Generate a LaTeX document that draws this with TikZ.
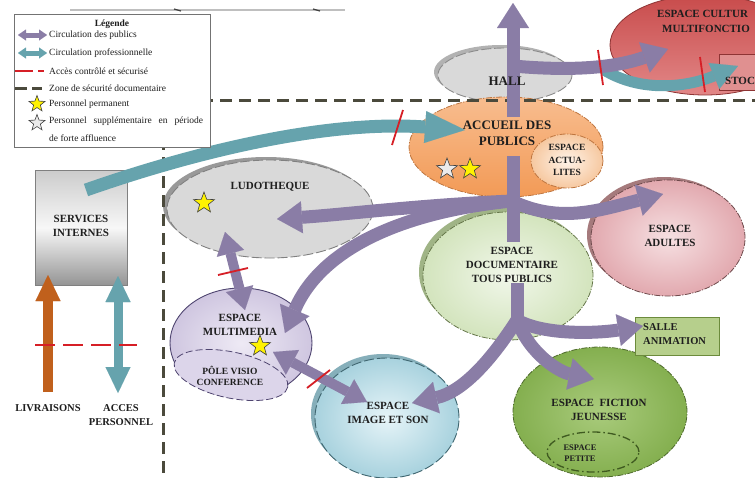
\documentclass[tikz,border=0pt]{standalone}
\usepackage{fontspec}
\setmainfont{Liberation Serif}
\usetikzlibrary{arrows.meta,shapes.geometric}

% colours
\definecolor{inkc}{HTML}{1E1E1E}
\definecolor{pubc}{HTML}{8A7DA6}
\definecolor{proc}{HTML}{66A3AD}
\definecolor{livc}{HTML}{C0601C}
\definecolor{redc}{HTML}{D61F26}
\definecolor{zonec}{HTML}{4B4A3C}
\definecolor{cultTop}{HTML}{C84B4B}
\definecolor{cultBot}{HTML}{E28787}
\definecolor{cultLine}{HTML}{8E3434}
\definecolor{stocFill}{HTML}{E09090}
\definecolor{accTopC}{HTML}{F8BD8F}
\definecolor{accBotC}{HTML}{F29A56}
\definecolor{accLine}{HTML}{BE7640}
\definecolor{actuIn}{HTML}{FFF3E8}
\definecolor{actuOut}{HTML}{F6C8A0}
\definecolor{multiIn}{HTML}{EEEAF5}
\definecolor{multiOut}{HTML}{CFC6E0}
\definecolor{multiLine}{HTML}{4F4570}
\definecolor{poleFill}{HTML}{DCD5EA}
\definecolor{imgIn}{HTML}{E6F4F8}
\definecolor{imgOut}{HTML}{A8D2DE}
\definecolor{imgRim}{HTML}{86AFBA}
\definecolor{imgLine}{HTML}{3F6670}
\definecolor{docIn}{HTML}{F1F7EA}
\definecolor{docOut}{HTML}{D3E4BD}
\definecolor{docRim}{HTML}{A0B486}
\definecolor{docLine}{HTML}{66774A}
\definecolor{adultIn}{HTML}{F6E0E2}
\definecolor{adultOut}{HTML}{E2A9AF}
\definecolor{adultRim}{HTML}{A57A7C}
\definecolor{adultLine}{HTML}{6F4A4C}
\definecolor{fictIn}{HTML}{A9CB7C}
\definecolor{fictOut}{HTML}{84AF4F}
\definecolor{fictLine}{HTML}{4E6A2C}
\definecolor{petiteLine}{HTML}{3F5A20}
\definecolor{salleFill}{HTML}{B6CF8C}
\definecolor{salleLine}{HTML}{6C8B3C}

\tikzset{
  PubTip/.tip={Triangle[length=25pt,width=32pt,line width=0.01pt]},
  PubTwoTip/.tip={Triangle[length=22pt,width=28pt,line width=0.01pt]},
  ProTip/.tip={Triangle[length=40pt,width=32pt,line width=0.01pt]},
  SmallProTip/.tip={Triangle[length=26pt,width=28pt,line width=0.01pt]},
  StaffTip/.tip={Triangle[length=26pt,width=25pt,line width=0.01pt]},
  KeyTip/.tip={Triangle[length=8pt,width=11pt,line width=0.01pt]},
}

\begin{document}
\begin{tikzpicture}[x=1pt,y=-1pt,
  lbl/.style={font=\fontsize{11}{14}\selectfont\bfseries, align=center, text=inkc, inner sep=0pt},
  biglbl/.style={font=\fontsize{13}{15.5}\selectfont\bfseries, align=center, text=inkc, inner sep=0pt},
  smalllbl/.style={font=\fontsize{9.5}{12.5}\selectfont\bfseries, align=center, text=inkc, inner sep=0pt},
  legtxt/.style={font=\fontsize{9.5}{11}\selectfont, anchor=west, text=inkc, inner sep=0pt},
  area/.style={ellipse, inner sep=0pt, line width=0.8pt,
               dash pattern=on 6pt off 1.5pt on 1.2pt off 1.5pt},
  dashedarea/.style={ellipse, inner sep=0pt, line width=0.9pt,
               dash pattern=on 10pt off 3pt},
  pub/.style={draw=pubc, line width=13pt, -PubTip},
  pubshaft/.style={draw=pubc, line width=13pt},
  pubtwo/.style={draw=pubc, line width=10pt, PubTwoTip-PubTwoTip},
  pro/.style={draw=proc, line width=13pt, -ProTip},
  barrier/.style={draw=redc, line width=1.8pt},
  zone/.style={draw=zonec, line width=3pt, dash pattern=on 12pt off 7pt},
  pstar/.style={star, star points=5, star point ratio=2.4, minimum size=22pt,
                inner sep=0pt, draw=black!75, line width=0.6pt},
]
\useasboundingbox (0,0) rectangle (755,477);
\fill[white] (0,0) rectangle (755,477);

% strip of the floor above
\draw[line width=2.5pt, black!25] (70,10) -- (345,10);
\draw[line width=1.2pt, black!75] (174,9) -- (181,11);
\draw[line width=1.2pt, black!75] (313,9) -- (320,11);

% ---------- spaces ----------
% cultural space and storage
\node[ellipse, inner sep=0pt, minimum width=190pt, minimum height=100pt,
      top color=cultTop, bottom color=cultBot,
      draw=cultLine, line width=0.8pt] (cult) at (705,45) {};
\node[draw=cultLine, fill=stocFill, line width=0.8pt,
      minimum width=42pt, minimum height=36pt, anchor=north west, inner sep=0pt]
      (stoc) at (719,54) {};

% hall
\fill[black!30] (501,72) ellipse [x radius=67pt, y radius=27pt];
\node[dashedarea, draw=black!45, fill=black!15, minimum width=134pt, minimum height=54pt]
      (hall) at (505,75) {};

% reception
\node[area, draw=accLine, top color=accTopC, bottom color=accBotC,
      minimum width=194pt, minimum height=100pt] (accueil) at (506,147) {};
\node[area, draw=accLine, inner color=actuIn, outer color=actuOut,
      minimum width=72pt, minimum height=54pt] (actu) at (567,161) {};

% toy library
\fill[black!40] (266,206) ellipse [x radius=103pt, y radius=49pt];
\node[dashedarea, draw=black!50, fill=black!15, minimum width=206pt, minimum height=98pt]
      (ludo) at (270,209) {};

% internal services
\node[draw=black!50, line width=0.6pt, top color=black!20, bottom color=black!42,
      middle color=black!3, minimum width=92pt, minimum height=115pt,
      anchor=north west, inner sep=0pt] (serv) at (35,170) {};

% multimedia space with its conference corner
\node[ellipse, inner sep=0pt, draw=multiLine, line width=0.9pt,
      inner color=multiIn, outer color=multiOut,
      minimum width=142pt, minimum height=110pt] (multi) at (241,343) {};
\node[ellipse, inner sep=0pt, rotate=-12, fill=poleFill,
      draw=multiLine, line width=0.8pt, dash pattern=on 7pt off 3pt,
      minimum width=116pt, minimum height=46pt] (pole) at (231,375) {};

% image and sound
\fill[imgRim] (383,414) ellipse [x radius=72pt, y radius=60pt];
\node[dashedarea, draw=imgLine, inner color=imgIn, outer color=imgOut,
      minimum width=144pt, minimum height=120pt] (img) at (387,418) {};

% general documentation
\fill[docRim] (504,272) ellipse [x radius=85pt, y radius=64pt];
\node[area, draw=docLine, inner color=docIn, outer color=docOut,
      minimum width=170pt, minimum height=128pt] (doc) at (508,276) {};

% adults
\fill[adultRim] (664,235) ellipse [x radius=77pt, y radius=58pt];
\node[area, draw=adultLine, inner color=adultIn, outer color=adultOut,
      minimum width=154pt, minimum height=116pt] (adult) at (668,238) {};

% youth fiction
\node[area, draw=fictLine, inner color=fictIn, outer color=fictOut,
      minimum width=174pt, minimum height=130pt] (fict) at (600,412) {};
\node[ellipse, inner sep=0pt, draw=petiteLine, line width=1.3pt,
      dash pattern=on 8pt off 3pt on 1.5pt off 3pt,
      minimum width=92pt, minimum height=40pt] (petite) at (593,452) {};

% event room
\node[draw=salleLine, fill=salleFill, line width=0.8pt,
      minimum width=84pt, minimum height=38pt, anchor=north west, inner sep=0pt]
      (salle) at (635,317) {};

% ---------- security zone ----------
\draw[zone] (163,100) -- (755,100);
\draw[zone] (163,100) -- (163,477);

% ---------- connection points ----------
\coordinate (hub) at (512,201);
\coordinate (accTop) at (513,117);
\coordinate (topTip) at (513,3);
\coordinate (accLow) at (513,156);
\coordinate (docEnd) at (513,242);
\coordinate (hallOut) at (513,66);
\coordinate (cultEnd) at (668,49);
\coordinate (stocOut) at (604,70);
\coordinate (stocEnd) at (738,66);
\coordinate (servOut) at (86,190);
\coordinate (accEnd) at (465,130);
\coordinate (ludoEnd) at (277,219);
\coordinate (multiEnd) at (285,333);
\coordinate (adultEnd) at (663,194);
\coordinate (docTop) at (517,283);
\coordinate (docHub) at (517,320);
\coordinate (salleEnd) at (643,326);
\coordinate (fictEnd) at (594,379);
\coordinate (imgEnd) at (412,403);
\coordinate (ludoLow) at (225,232);
\coordinate (multiTop) at (245,310);
\coordinate (multiStar) at (273,352);
\coordinate (imgTop) at (367,402);
\coordinate (livFoot) at (48,392);
\coordinate (livTip) at (48,275);
\coordinate (staffFoot) at (118,393);
\coordinate (staffTip) at (118,276);

% ---------- professional flows ----------
\draw[pro] (servOut) .. controls (200,150) and (330,120) .. (accEnd);
\draw[draw=proc, line width=11pt, -SmallProTip] (stocOut) .. controls (640,92) and (685,88) .. (stocEnd);
\draw[draw=livc, line width=10pt, -StaffTip] (livFoot) -- (livTip);
\draw[draw=proc, line width=9pt, StaffTip-StaffTip] (staffFoot) -- (staffTip);

% ---------- public flows ----------
\draw[pub] (accTop) -- (topTip);
\draw[pub] (hallOut) .. controls (580,72) and (620,66) .. (cultEnd);
\draw[pubshaft] (accLow) -- (docEnd);
\draw[pub] (hub) .. controls (420,205) and (350,214) .. (ludoEnd);
\draw[pub] (hub) .. controls (400,212) and (320,250) .. (multiEnd);
\draw[pub] (hub) .. controls (560,224) and (600,210) .. (adultEnd);
\draw[pubshaft] (docTop) -- (docHub);
\draw[pub] (docHub) .. controls (545,336) and (600,333) .. (salleEnd);
\draw[pub] (docHub) .. controls (530,355) and (560,372) .. (fictEnd);
\draw[pub] (docHub) .. controls (490,362) and (462,392) .. (imgEnd);
\draw[pubtwo] (ludoLow) -- (multiTop);
\draw[pubtwo] (multiStar) -- (imgTop);

% ---------- controlled accesses ----------
\draw[barrier] (403,110) -- (392,145);
\draw[barrier] (598,50) -- (603,85);
\draw[barrier] (700,57) -- (705,92);
\draw[barrier] (218,275) -- (248,268);
\draw[barrier] (307,388) -- (330,370);
\draw[draw=redc, line width=2pt, dash pattern=on 20pt off 8pt] (35,345) -- (137,345);

% ---------- staff ----------
\node[pstar, fill=white!92!black] (accS1) at (447,169) {};
\node[pstar, fill=yellow] (accS2) at (470,169) {};
\node[pstar, fill=yellow] (ludoS) at (204,203) {};
\node[pstar, fill=yellow] (multiS) at (260,346) {};

% ---------- labels ----------
\node[biglbl] (tHall) at (507,81) {HALL};
\node[biglbl] (tAcc) at (507,133.5) {ACCUEIL DES\\PUBLICS};
\node[smalllbl] (tActu) at (567,160) {ESPACE\\ACTUA-\\LITES};
\node[lbl, anchor=base west] (tCult1) at (657,17) {ESPACE CULTUR};
\node[lbl, anchor=base west] (tCult2) at (662,32) {MULTIFONCTIO};
\node[lbl, anchor=base west] (tStoc) at (725,84) {STOC};
\node[lbl] (tLudo) at (270,187) {LUDOTHEQUE};
\node[lbl] (tServ) at (81,226) {SERVICES\\INTERNES};
\node[font=\fontsize{10.5}{13}\selectfont\bfseries, text=inkc, inner sep=0pt] (tLiv) at (48,408) {LIVRAISONS};
\node[font=\fontsize{10.5}{13.5}\selectfont\bfseries, align=center, text=inkc, inner sep=0pt] (tAccP) at (121,415) {ACCES\\PERSONNEL};
\node[lbl] (tMulti) at (240,325) {ESPACE\\MULTIMEDIA};
\node[font=\fontsize{9.5}{11.5}\selectfont\bfseries, align=center, text=inkc, inner sep=0pt] (tPole) at (230,376) {PÔLE VISIO\\CONFERENCE};
\node[lbl] (tImg) at (388,412.5) {ESPACE\\IMAGE ET SON};
\node[lbl] (tDoc) at (512,265) {ESPACE\\DOCUMENTAIRE\\TOUS PUBLICS};
\node[lbl] (tAdult) at (670,236) {ESPACE\\ADULTES};
\node[font=\fontsize{10.5}{14}\selectfont\bfseries, align=left, text=inkc, inner sep=0pt, anchor=west] (tSalle) at (643,334.5) {SALLE\\ANIMATION};
\node[lbl] (tFict) at (599,410) {ESPACE\ \ FICTION\\JEUNESSE};
\node[font=\fontsize{8.5}{11}\selectfont\bfseries, align=center, text=inkc, inner sep=0pt] (tPetite) at (580,453.5) {ESPACE\\PETITE};

% ---------- key ----------
\node[draw=black!55, fill=white, line width=0.8pt, minimum width=196pt, minimum height=133pt,
      anchor=north west, inner sep=0pt] (legend) at (14,14) {};
\node[font=\fontsize{9.5}{11}\selectfont\bfseries, text=inkc, inner sep=0pt] (kTitle) at (112,24) {Légende};
\coordinate (k1a) at (18,35); \coordinate (k1b) at (47,35);
\coordinate (k2a) at (18,53); \coordinate (k2b) at (47,53);
\draw[draw=pubc, line width=5pt, KeyTip-KeyTip] (k1a) -- (k1b);
\draw[draw=proc, line width=5pt, KeyTip-KeyTip] (k2a) -- (k2b);
\coordinate (k3a) at (15,71); \coordinate (k3b) at (33,71);
\coordinate (k3c) at (38,71); \coordinate (k3d) at (44,71);
\draw[draw=redc, line width=2pt] (k3a) -- (k3b) (k3c) -- (k3d);
\coordinate (k4a) at (15,88); \coordinate (k4b) at (27,88);
\coordinate (k4c) at (32,88); \coordinate (k4d) at (42,88);
\draw[draw=zonec, line width=3pt] (k4a) -- (k4b) (k4c) -- (k4d);
\node[pstar, fill=yellow, minimum size=17pt] (kStar1) at (37,104) {};
\node[pstar, fill=white!92!black, minimum size=17pt] (kStar2) at (37,123) {};
\node[legtxt] (kT1) at (49,35) {Circulation des publics};
\node[legtxt] (kT2) at (49,53) {Circulation professionnelle};
\node[legtxt] (kT3) at (49,71) {Accès contrôlé et sécurisé};
\node[legtxt] (kT4) at (49,88) {Zone de sécurité documentaire};
\node[legtxt] (kT5) at (49,104) {Personnel permanent};
\node[legtxt] (kT6) at (49,121) {\makebox[154pt][s]{Personnel supplémentaire en période}};
\node[legtxt] (kT7) at (49,138) {de forte affluence};
\end{tikzpicture}
\end{document}
